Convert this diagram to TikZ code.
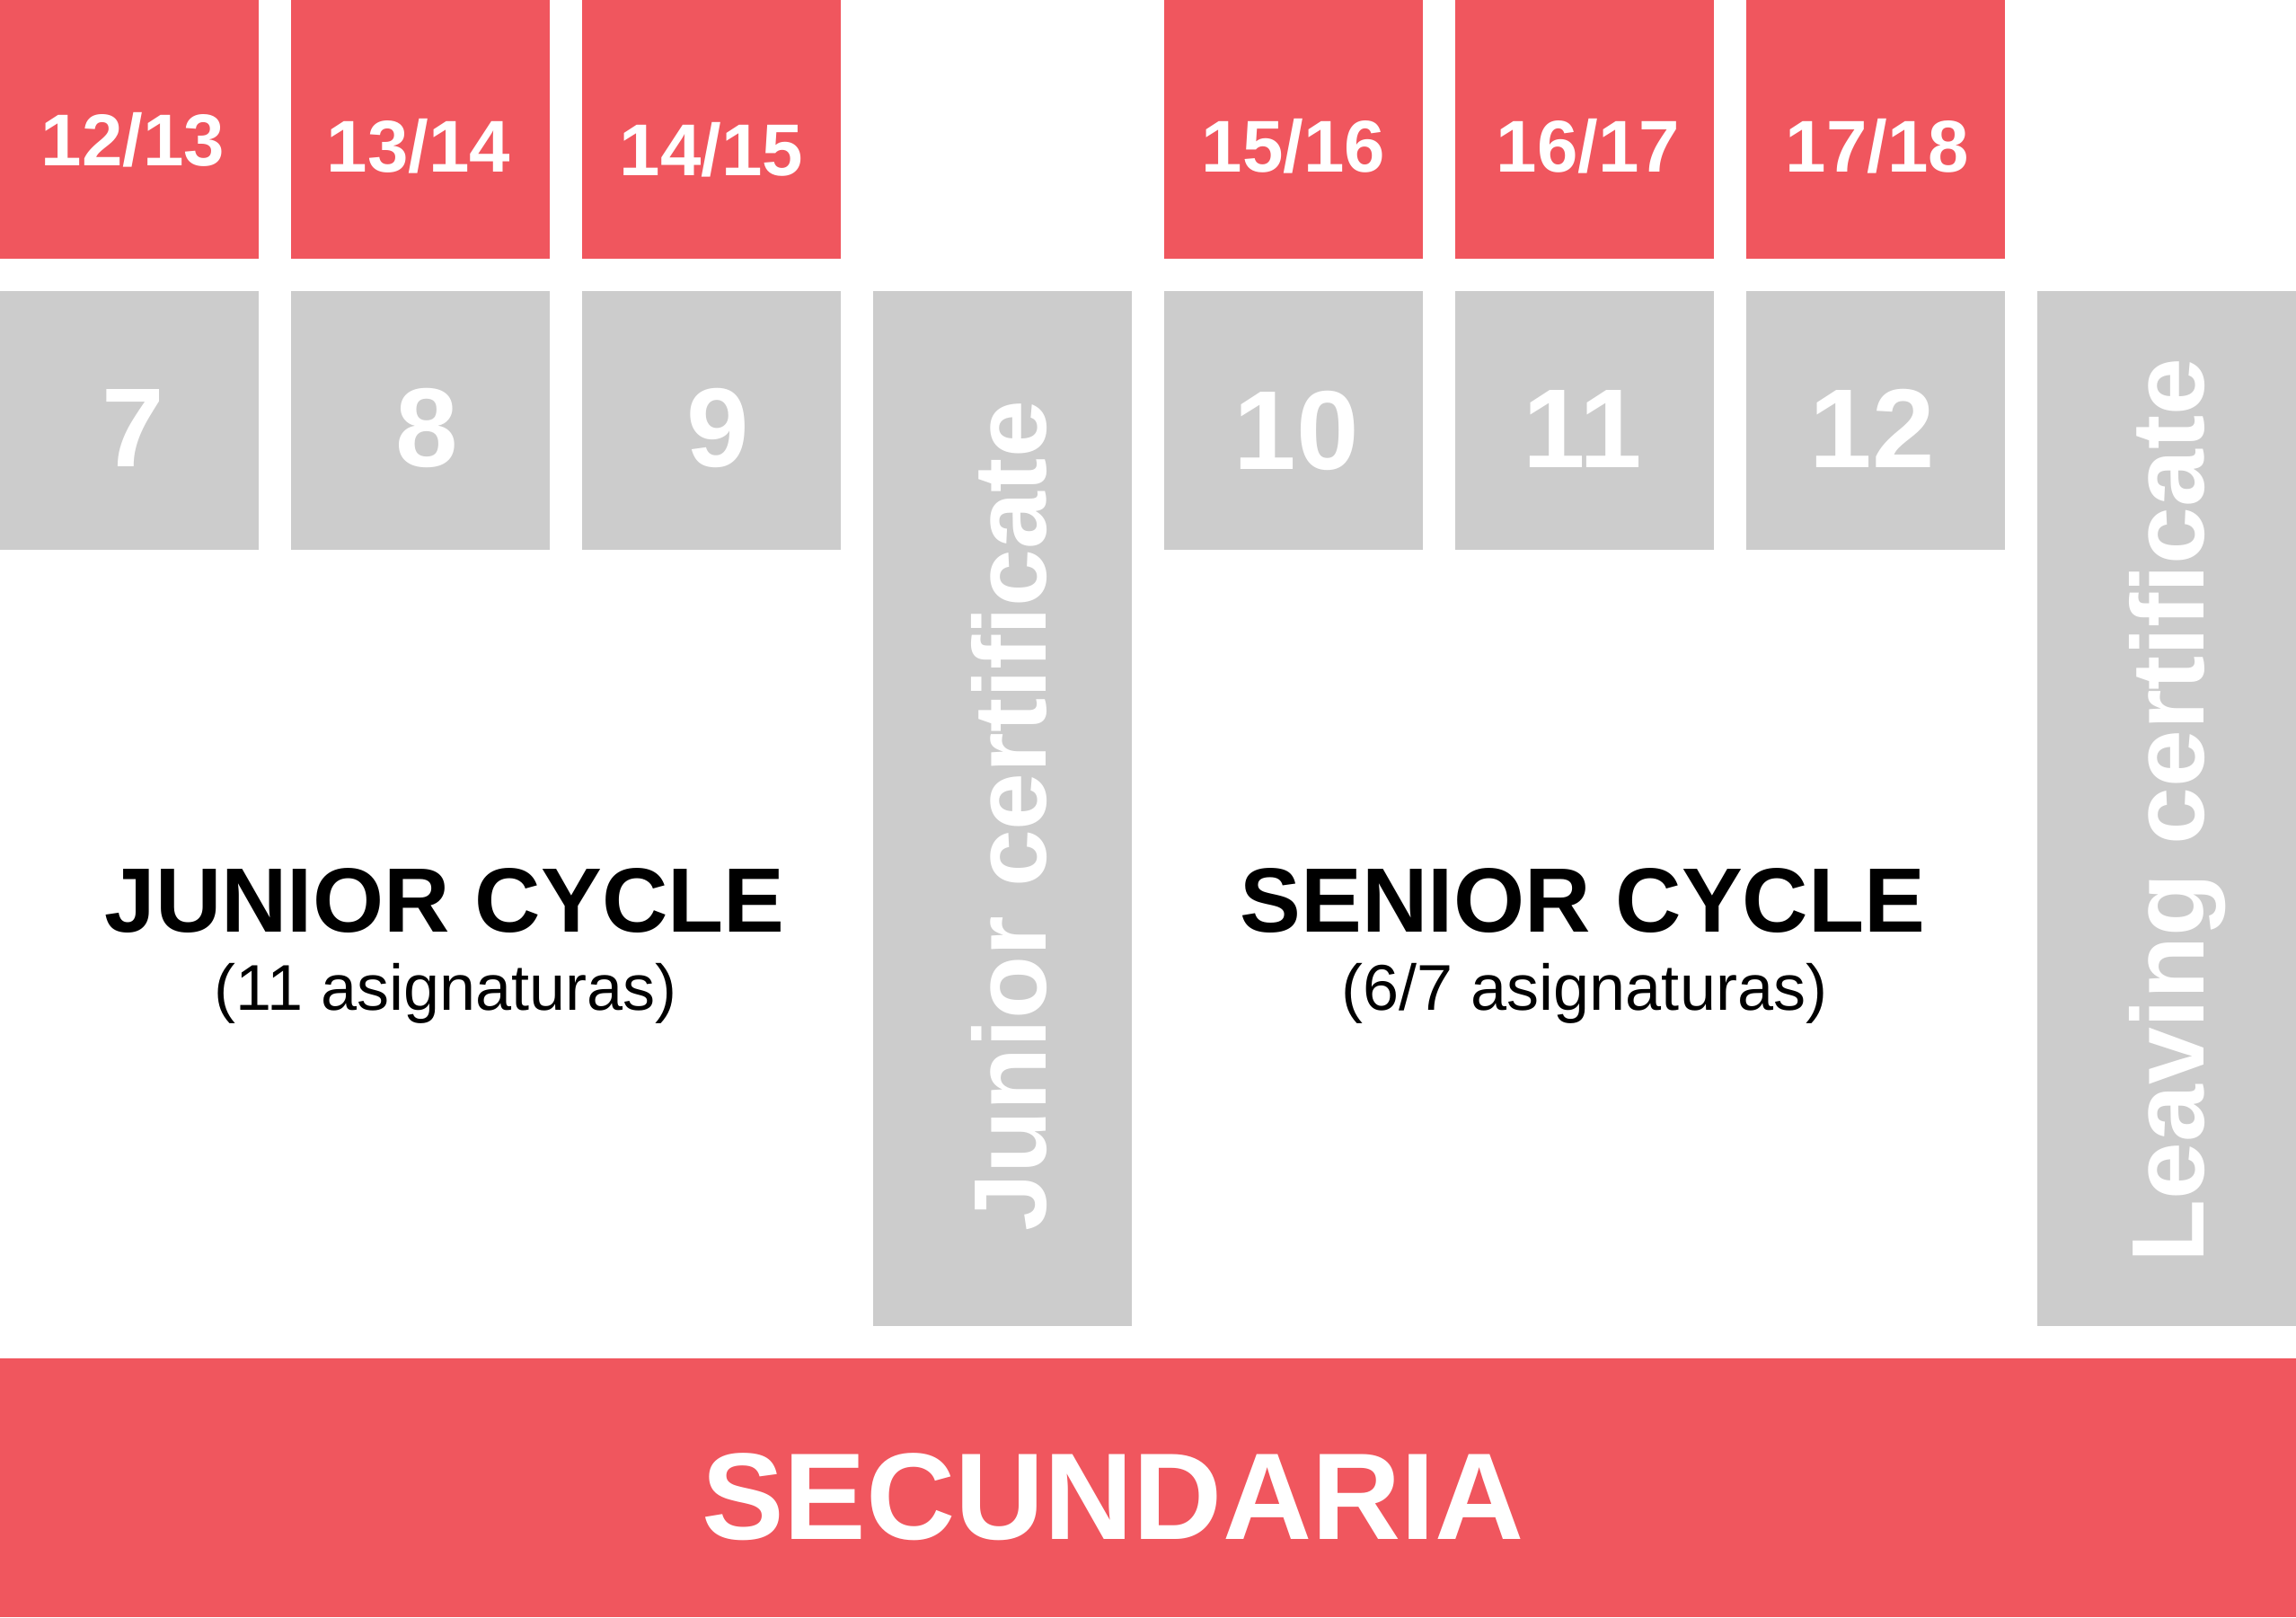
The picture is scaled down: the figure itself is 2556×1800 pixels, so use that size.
\documentclass[tikz,border=0pt]{standalone}
\usepackage{fontspec}
\setmainfont{Liberation Sans}
\definecolor{rojo}{RGB}{240,86,94}
\definecolor{gris}{RGB}{204,204,204}
\begin{document}
\begin{tikzpicture}[x=0.3pt,y=-0.3pt,
  box/.style={anchor=north west, minimum width=86.4pt, minimum height=86.4pt, inner sep=0pt, outer sep=0pt, draw=none},
  redbox/.style={box, fill=rojo},
  greybox/.style={box, fill=gris},
  certbox/.style={box, fill=gris, minimum height=345.6pt},
  basebox/.style={box, fill=rojo, minimum width=766.8pt},
  lbl/.style={anchor=base, inner sep=0pt, outer sep=0pt},
  agelbl/.style={lbl, text=white, font=\fontsize{24.5}{24.5}\selectfont\bfseries},
  gradelbl/.style={lbl, text=white, font=\fontsize{37.5}{37.5}\selectfont\bfseries},
  certlbl/.style={lbl, text=white, rotate=90, font=\fontsize{34.4}{34.4}\selectfont\bfseries},
  cyclelbl/.style={lbl, text=black, font=\fontsize{30.5}{30.5}\selectfont\bfseries},
  sublbl/.style={lbl, text=black, font=\fontsize{21.6}{21.6}\selectfont},
  baselbl/.style={lbl, text=white, font=\fontsize{41.2}{41.2}\selectfont\bfseries}
]
\useasboundingbox (0,0) rectangle (2556,1800);

% age boxes
\node[redbox] (a1) at (0,0) {};
\node[redbox] (a2) at (324,0) {};
\node[redbox] (a3) at (648,0) {};
\node[redbox] (a4) at (1296,0) {};
\node[redbox] (a5) at (1620,0) {};
\node[redbox] (a6) at (1944,0) {};
\node[agelbl] (ta1) at (148,184) {12/13};
\node[agelbl] (ta2) at (466,191) {13/14};
\node[agelbl] (ta3) at (792,195) {14/15};
\node[agelbl] (ta4) at (1440,191) {15/16};
\node[agelbl] (ta5) at (1768,191) {16/17};
\node[agelbl] (ta6) at (2090,191) {17/18};

% grade boxes
\node[greybox] (g1) at (0,324) {};
\node[greybox] (g2) at (324,324) {};
\node[greybox] (g3) at (648,324) {};
\node[greybox] (g4) at (1296,324) {};
\node[greybox] (g5) at (1620,324) {};
\node[greybox] (g6) at (1944,324) {};
\node[gradelbl] (tg1) at (148,519) {7};
\node[gradelbl] (tg2) at (475,519) {8};
\node[gradelbl] (tg3) at (799,519) {9};
\node[gradelbl] (tg4) at (1443,522) {10};
\node[gradelbl] (tg5) at (1762,520) {11};
\node[gradelbl] (tg6) at (2084,520) {12};

% certificates
\node[certbox] (jc) at (972,324) {};
\node[certbox] (lc) at (2268,324) {};
\node[certlbl] (tjc) at (1164,908) {Junior certificate};
\node[certlbl] (tlc) at (2453,902) {Leaving certificate};

% cycles
\node[cyclelbl] (jcy) at (495,1037) {JUNIOR CYCLE};
\node[sublbl] (jsub) at (496,1124) {(11 asignaturas)};
\node[cyclelbl] (scy) at (1762,1037) {SENIOR CYCLE};
\node[sublbl] (ssub) at (1764,1124) {(6/7 asignaturas)};

% secundaria
\node[basebox] (sec) at (0,1512) {};
\node[baselbl] (tsec) at (1239,1713) {SECUNDARIA};
\end{tikzpicture}
\end{document}
